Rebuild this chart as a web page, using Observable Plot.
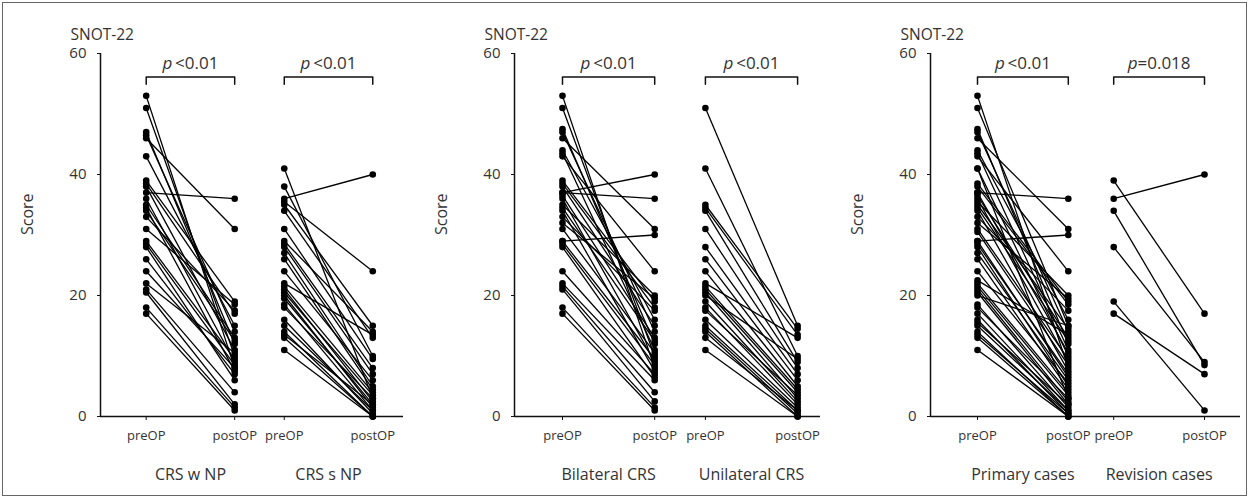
<!DOCTYPE html>
<html><head><meta charset="utf-8">
<script src="https://cdn.jsdelivr.net/npm/d3@7"></script>
<script src="https://cdn.jsdelivr.net/npm/@observablehq/plot@0.6"></script>
<style>
body{margin:0;background:#fff;}
#wrap{position:relative;width:1251px;height:500px;overflow:hidden;font-family:"Open Sans",sans-serif;background:#fff}
#frame{position:absolute;left:2px;top:2px;width:1245px;height:494px;border:1.5px solid #666;box-sizing:border-box}
.panel{position:absolute;top:0}
</style></head><body><div id="wrap"><div id="frame"></div></div>
<script>
// ---- data ----
const yTicks = [0, 20, 40, 60];
const stageLabels = ["preOP", "postOP"];
const yTitle = "Score";
const scoreName = "SNOT-22";

const groupNames = ["CRS w NP", "CRS s NP", "Bilateral CRS", "Unilateral CRS", "Primary cases", "Revision cases"];
const pLabels = ["p<0.01", "p<0.01", "p<0.01", "p<0.01", "p<0.01", "p=0.018"];

const crsWithNP_pre  = [53, 51, 47, 46.5, 46, 43, 39, 38.5, 38, 37, 36, 35, 34.5, 34, 33, 31, 29, 28.5, 28, 26, 24, 22, 21, 20.5, 18, 17];
const crsWithNP_post = [8, 10, 12, 14, 31, 15, 19, 17, 11, 36, 9, 13, 7.5, 12.5, 17.5, 18.5, 9.5, 8.5, 6, 7, 8, 10.5, 4, 2, 1.5, 1];

const crsSansNP_pre  = [41, 38, 36, 35.5, 35, 34, 31, 29, 28.5, 28, 27, 26, 24, 22, 21.5, 21, 20.5, 20, 19.5, 18.5, 18, 16, 15, 14, 13.5, 13, 11];
const crsSansNP_post = [3, 10, 40, 24, 15, 13, 9.5, 14, 8, 7, 5, 4.5, 6, 13.5, 4, 2.5, 3.5, 1.5, 2, 1, 3, 0.5, 1, 0, 2, 0, 0];

const bilateral_pre  = [53, 51, 47.5, 47, 46, 44, 43.5, 43, 39, 38.5, 38, 37, 37, 36.5, 36, 35, 34.5, 34, 33, 32, 31, 29, 29, 28.5, 28, 24, 22, 21.5, 21, 18, 17];
const bilateral_post = [8, 10, 12, 14, 31, 16, 11, 24, 19, 18, 15, 36, 40, 13, 9, 20, 12.5, 7.5, 17.5, 19.5, 10.5, 30, 9.5, 8.5, 6.5, 7, 6, 4, 2.5, 1.5, 1];

const unilateral_pre  = [51, 41, 35, 34.5, 34, 31, 28, 26, 24, 22, 21.5, 21, 20.5, 20, 19, 18, 17.5, 16, 15, 14.5, 14, 13, 11];
const unilateral_post = [15, 10, 14.5, 13.5, 9, 8, 7, 6, 5, 13, 4.5, 4, 3, 9.5, 2.5, 2, 3.5, 1.5, 1, 0.5, 0, 1, 0];

const primary_pre  = [53, 51, 47.5, 47, 46, 44, 43.5, 43, 41, 41, 38.5, 38, 37, 37, 36.5, 36, 35.5, 35, 34.5, 34, 33, 32, 31, 30.5, 29, 29, 28.5, 28, 27, 26, 24, 22.5, 22, 21.5, 21, 20.5, 20, 18.5, 18, 17, 16, 15.5, 15, 14, 13.5, 13, 11];
const primary_post = [8, 15, 12, 14, 31, 16, 11, 24, 10, 3, 19, 18.5, 36, 10.5, 13, 9, 20, 14.5, 12.5, 7.5, 17.5, 19.5, 9.5, 8.5, 30, 6.5, 7, 5, 6, 4.5, 5.5, 13.5, 4, 3.5, 2.5, 2, 15, 1.5, 3, 1, 0.5, 2, 1, 0, 0.5, 0, 0];

const revision_pre  = [39, 36, 34, 28, 19, 17];
const revision_post = [17, 40, 8.5, 9, 1, 7];

// ---- layout (not data) ----
const panelLayout = [
  {left: 0,   width: 403, pre1: 45.7, unit: 88.5, gap: 0.56, groups: [0, 1], pre: [crsWithNP_pre, crsSansNP_pre], post: [crsWithNP_post, crsSansNP_post]},
  {left: 414, width: 406, pre1: 48,   unit: 92.2, gap: 0.55, groups: [2, 3], pre: [bilateral_pre, unilateral_pre], post: [bilateral_post, unilateral_post]},
  {left: 830, width: 410, pre1: 47,   unit: 90.8, gap: 0.50, groups: [4, 5], pre: [primary_pre, revision_pre], post: [primary_post, revision_post]}
];
const M = {left: 100, top: 53, bottom: 84};
const H = 500;
const bracketTop = 56.1, bracketFoot = 54.9;
const ink = "#111", textCol = "#333";

const wrap = document.getElementById("wrap");

panelLayout.forEach(P => {
  const plotW = P.width - M.left;
  const xDomain = [-P.pre1 / P.unit, (plotW - P.pre1) / P.unit];
  const offsets = [0, 1 + P.gap];
  const pairs = [], points = [], groups = [], ticks = [], tickLab = new Map(), bracket = [];
  P.groups.forEach((gi, k) => {
    const x0 = offsets[k], x1 = offsets[k] + 1;
    ticks.push(x0, x1);
    tickLab.set(x0, stageLabels[0]); tickLab.set(x1, stageLabels[1]);
    groups.push({name: groupNames[gi], p: pLabels[gi], mid: (x0 + x1) / 2});
    bracket.push({g: k, x: x0, y: bracketFoot}, {g: k, x: x0, y: bracketTop}, {g: k, x: x1, y: bracketTop}, {g: k, x: x1, y: bracketFoot});
    P.pre[k].forEach((v, i) => {
      const w = P.post[k][i];
      pairs.push({x1: x0, y1: v, x2: x1, y2: w});
      points.push({x: x0, y: v}, {x: x1, y: w});
    });
  });

  const svg = Plot.plot({
    width: P.width, height: H,
    marginLeft: M.left, marginRight: 0, marginTop: M.top, marginBottom: M.bottom,
    style: {background: "transparent", fontFamily: "'Open Sans', sans-serif", color: textCol, overflow: "visible"},
    x: {domain: xDomain, axis: null},
    y: {domain: [0, 60], axis: null},
    marks: [
      Plot.axisY({ticks: yTicks, tickSize: 3, tickPadding: 11, fontSize: 15, tickFormat: d => String(d), stroke: ink, label: null}),
      Plot.axisX({ticks, tickSize: 4, tickPadding: 10, fontSize: 13, tickFormat: d => tickLab.get(d), stroke: ink, label: null}),
      Plot.ruleX([xDomain[0]], {stroke: ink, strokeWidth: 1.5}),
      Plot.ruleY([0], {stroke: ink, strokeWidth: 1.5}),
      Plot.link(pairs, {x1: "x1", y1: "y1", x2: "x2", y2: "y2", stroke: "#000", strokeWidth: 1.3}),
      Plot.dot(points, {x: "x", y: "y", r: 3.3, fill: "#000", stroke: "none"}),
      Plot.line(bracket, {x: "x", y: "y", z: "g", stroke: ink, strokeWidth: 1.5}),
      Plot.text(groups, {x: "mid", text: "p", frameAnchor: "top", dy: 3, fontSize: 17, fill: textCol}),
      Plot.text(groups, {x: "mid", text: "name", frameAnchor: "bottom", dy: 63, fontSize: 16, fill: textCol}),
      Plot.text([scoreName], {text: d => d, frameAnchor: "top-left", textAnchor: "start", dx: -30, dy: -25, fontSize: 15.5, fill: textCol}),
      Plot.text([yTitle], {text: d => d, frameAnchor: "left", rotate: -90, dx: -73, fontSize: 16, fill: textCol})
    ]
  });
  // italic "p" in p-value labels
  svg.querySelectorAll("text").forEach(t => {
    const m = t.textContent.match(/^p([<=].*)$/);
    if (m && t.children.length === 0) {
      t.textContent = "";
      const ns = "http://www.w3.org/2000/svg";
      const a = document.createElementNS(ns, "tspan");
      a.setAttribute("font-style", "italic");
      a.textContent = "p";
      const b = document.createElementNS(ns, "tspan");
      b.textContent = (m[1][0] === "<" ? "\u2009" : "") + m[1];
      t.appendChild(a); t.appendChild(b);
    }
  });
  svg.classList.add("panel");
  svg.style.left = P.left + "px";
  svg.style.position = "absolute";
  svg.style.top = "0px";
  wrap.appendChild(svg);
});
</script></body></html>
